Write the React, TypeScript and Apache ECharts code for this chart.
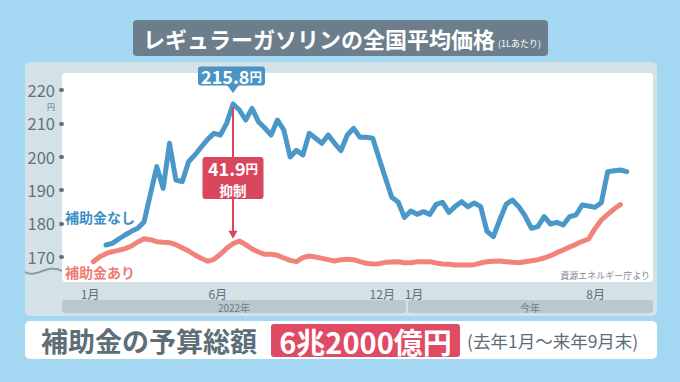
import React, { useEffect, useRef } from 'react';
import * as echarts from 'echarts';

// Weekly national average regular gasoline price (yen / L)
// Price without subsidy (補助金なし) – starts two weeks after the subsidised series
const withoutSubsidy = [
  173.5, 174.0, 175.3, 176.5, 177.6, 178.5, 180.5, 188.8, 197.0, 190.5,
  204.0, 193.0, 192.5, 198.5, 200.5, 202.9, 205.2, 207.0, 206.5, 210.0,
  215.8, 214.0, 211.0, 214.5, 210.5, 208.6, 206.5, 211.0, 208.0, 199.9,
  201.9, 200.5, 207.0, 205.5, 204.0, 206.5, 204.0, 201.8, 206.5, 208.5,
  205.8, 205.8, 205.5, 199.5, 193.6, 187.8, 186.4, 181.8, 183.7, 182.7,
  183.5, 182.7, 185.7, 186.3, 183.3, 185.1, 186.5, 185.0, 186.1, 185.0,
  177.6, 176.0, 181.0, 185.7, 187.0, 185.0, 182.2, 178.5, 179.0, 182.0,
  179.8, 180.3, 179.5, 182.0, 182.5, 185.5, 185.2, 184.8, 186.2, 195.5,
  195.8, 196.0, 195.5,
];
const withoutSubsidyStart = 2;

// Actual price with subsidy (補助金あり)
const withSubsidy = [
  168.5, 170.0, 170.9, 171.5, 171.9, 172.4, 173.2, 174.4, 175.4, 175.1,
  174.5, 174.3, 174.2, 173.6, 172.7, 171.7, 170.5, 169.5, 168.6, 169.2,
  170.7, 172.5, 173.9, 174.7, 173.6, 172.3, 171.4, 170.7, 170.7, 170.4,
  169.6, 168.9, 168.5, 169.7, 170.2, 169.9, 169.5, 169.1, 168.7, 169.1,
  169.2, 169.1, 168.5, 168.0, 167.8, 167.9, 168.3, 168.4, 168.5, 168.2,
  168.2, 168.5, 168.5, 168.5, 168.1, 167.8, 167.7, 167.5, 167.5, 167.5,
  167.6, 168.1, 168.5, 168.6, 168.7, 168.5, 168.3, 168.2, 168.5, 168.8,
  169.1, 169.6, 170.3, 171.2, 172.0, 172.9, 173.7, 174.6, 175.3, 178.4,
  181.0, 182.7, 184.3, 185.6,
];

// Month tick labels (positions in week index)
const monthTickPos = [-0.5, 19.6, 45.5, 50.5, 79.1];
const monthTickLabels = ['1月', '6月', '12月', '1月', '8月'];
const yTickValues = [170, 180, 190, 200, 210, 220];
const yearLabels = ['2022年', '今年'];

const FONT = '"Noto Sans CJK JP", "Noto Sans", sans-serif';
const BLUE = '#4a97ca';
const PINK = '#f2837b';
const RED = '#d9475f';
const GRAY_TEXT = '#5e6e79';

function txt(x: number, y: number, text: string, size: number, fill: string, align = 'left', weight: any = 'normal', z = 10, extra: any = {}) {
  return {
    type: 'text', x, y, z,
    style: {
      text, fill, fontSize: size, fontFamily: FONT, fontWeight: weight,
      align, textAlign: align, verticalAlign: 'middle', textVerticalAlign: 'middle',
      ...extra,
    },
  };
}

export default function App() {
  const ref = useRef<HTMLDivElement>(null);

  useEffect(() => {
    document.body.style.margin = '0';
    const chart = echarts.init(ref.current!, undefined, { renderer: 'svg' });

    chart.setOption({
      animation: false,
      backgroundColor: '#a4d7f2',
      grid: { left: 62, top: 73, width: 591, height: 209, show: false },
      xAxis: {
        type: 'value', min: -4.93, max: 88.14,
        axisLine: { show: false, onZero: false }, axisTick: { show: false }, splitLine: { show: false },
        axisLabel: {
          customValues: monthTickPos,
          formatter: (v: number) => {
            const i = monthTickPos.findIndex((p) => Math.abs(p - v) < 0.01);
            return i >= 0 ? monthTickLabels[i] : '';
          },
          color: GRAY_TEXT, fontSize: 12, fontFamily: FONT, margin: 5,
        },
      },
      yAxis: {
        type: 'value', min: 162.4, max: 225.1,
        axisLine: { show: false, onZero: false }, splitLine: { show: false },
        axisTick: {
          show: true, customValues: yTickValues, length: 1,
          lineStyle: { color: '#62727d', width: 4, cap: 'round' },
        },
        axisLabel: {
          customValues: yTickValues, color: '#62727d', fontSize: 16.5, lineHeight: 13,
          fontFamily: FONT, margin: 7,
        },
      },
      series: [
        {
          type: 'line', name: '補助金あり',
          data: withSubsidy.map((v, i) => [i, v]),
          showSymbol: false, z: 3,
          lineStyle: { color: PINK, width: 5, cap: 'round', join: 'round' },
        },
        {
          type: 'line', name: '補助金なし',
          data: withoutSubsidy.map((v, k) => [k + withoutSubsidyStart, v]),
          showSymbol: false, z: 4,
          lineStyle: { color: BLUE, width: 5, cap: 'round', join: 'round' },
        },
      ],
    });

    // peak annotation
    let peakK = 0;
    withoutSubsidy.forEach((v, k) => { if (v > withoutSubsidy[peakK]) peakK = k; });
    const peakIdx = peakK + withoutSubsidyStart;
    const peakVal = withoutSubsidy[peakK];
    const lowVal = withSubsidy[peakIdx];
    const [px, py] = chart.convertToPixel({ gridIndex: 0 }, [peakIdx, peakVal]) as number[];
    const [, py2] = chart.convertToPixel({ gridIndex: 0 }, [peakIdx, lowVal]) as number[];
    const gap = (peakVal - lowVal).toFixed(1);
    const tipY = py2 - 5;

    const richNum = (big: number, small: number) => ({
      a: { fontSize: big, fontWeight: 'bold', fontFamily: FONT, fill: '#ffffff', lineHeight: big - 2 },
      b: { fontSize: small, fontWeight: 'bold', fontFamily: FONT, fill: '#ffffff', lineHeight: big - 2 },
    });

    const graphic: any[] = [
      // title
      { type: 'rect', z: -5, shape: { x: 133, y: 20, width: 415, height: 36, r: 4 }, style: { fill: '#6c7e8b' } },
      txt(143, 38, 'レギュラーガソリンの全国平均価格', 22, '#ffffff', 'left', 'bold'),
      txt(498, 43, '(1Lあたり)', 9, '#ffffff', 'left'),
      // panel
      { type: 'rect', z: -5, shape: { x: 25, y: 62, width: 632, height: 254, r: 5 }, style: { fill: '#d4e1e7' } },
      { type: 'rect', z: -4, shape: { x: 62, y: 73, width: 591, height: 209, r: 4 }, style: { fill: '#ffffff' } },
      { type: 'rect', z: -4, shape: { x: 62, y: 300, width: 344, height: 13, r: 3 }, style: { fill: '#b9c7cf' } },
      { type: 'rect', z: -4, shape: { x: 408, y: 300, width: 245, height: 13, r: 3 }, style: { fill: '#b9c7cf' } },
      txt(234, 307, yearLabels[0], 10, '#6e7d87', 'center'),
      txt(530, 307, yearLabels[1], 10, '#6e7d87', 'center'),
      // axis break wave
      {
        type: 'bezierCurve', z: 5,
        shape: { x1: 25, y1: 272, cpx1: 36, cpy1: 279, cpx2: 48, cpy2: 263, x2: 62, y2: 271 },
        style: { stroke: '#8d9aa2', lineWidth: 2, fill: 'none' },
      },
      txt(51, 106.5, '円', 8, '#62727d', 'center', 'normal', 10, { lineHeight: 8 }),
      // series labels
      txt(65, 217, '補助金なし', 14, '#3d8fc6', 'left', 'bold'),
      txt(65, 272, '補助金あり', 14, '#ef7b72', 'left', 'bold'),
      txt(650, 275, '資源エネルギー庁より', 9, '#7d8a93', 'right'),
      // arrow
      { type: 'line', z: 8, shape: { x1: px, y1: py + 3, x2: px, y2: tipY - 6 }, style: { stroke: RED, lineWidth: 2 } },
      { type: 'polygon', z: 8, shape: { points: [[px - 4.5, tipY - 8], [px + 4.5, tipY - 8], [px, tipY]] }, style: { fill: RED } },
      // peak label
      { type: 'rect', z: 9, shape: { x: px - 35, y: py - 37.5, width: 67, height: 19, r: 3 }, style: { fill: '#4a93c5' } },
      { type: 'polygon', z: 9, shape: { points: [[px - 6, py - 19], [px + 6, py - 19], [px, py - 11]] }, style: { fill: '#4a93c5' } },
      txt(px - 1.5, py - 28, `{a|${peakVal.toFixed(1)}}{b|円}`, 18, '#ffffff', 'center', 'bold', 10, {
        rich: richNum(18, 12.5),
      }),
      // gap label
      { type: 'rect', z: 9, shape: { x: px - 30.5, y: py + 53, width: 61, height: 42, r: 3 }, style: { fill: RED } },
      txt(px, py + 64, `{a|${gap}}{b|円}`, 18, '#ffffff', 'center', 'bold', 10, {
        rich: richNum(18, 12.5),
      }),
      txt(px, py + 86, '抑制', 13.5, '#ffffff', 'center', 'bold', 10, { lineHeight: 14 }),
      // bottom box
      { type: 'rect', z: -5, shape: { x: 25, y: 321, width: 632, height: 38, r: 5 }, style: { fill: '#ffffff' } },
      txt(41, 340, '補助金の予算総額', 27, GRAY_TEXT, 'left', 'bold'),
      { type: 'rect', z: -4, shape: { x: 271, y: 324, width: 189, height: 33, r: 3 }, style: { fill: '#df4a65' } },
      txt(365.5, 340.5, '6兆2000億円', 29, '#ffffff', 'center', 'bold'),
      txt(467, 340, '(去年1月～来年9月末)', 17.5, GRAY_TEXT, 'left'),
    ];

    chart.setOption({ graphic });

    return () => chart.dispose();
  }, []);

  return <div ref={ref} style={{ width: 680, height: 382 }} />;
}
